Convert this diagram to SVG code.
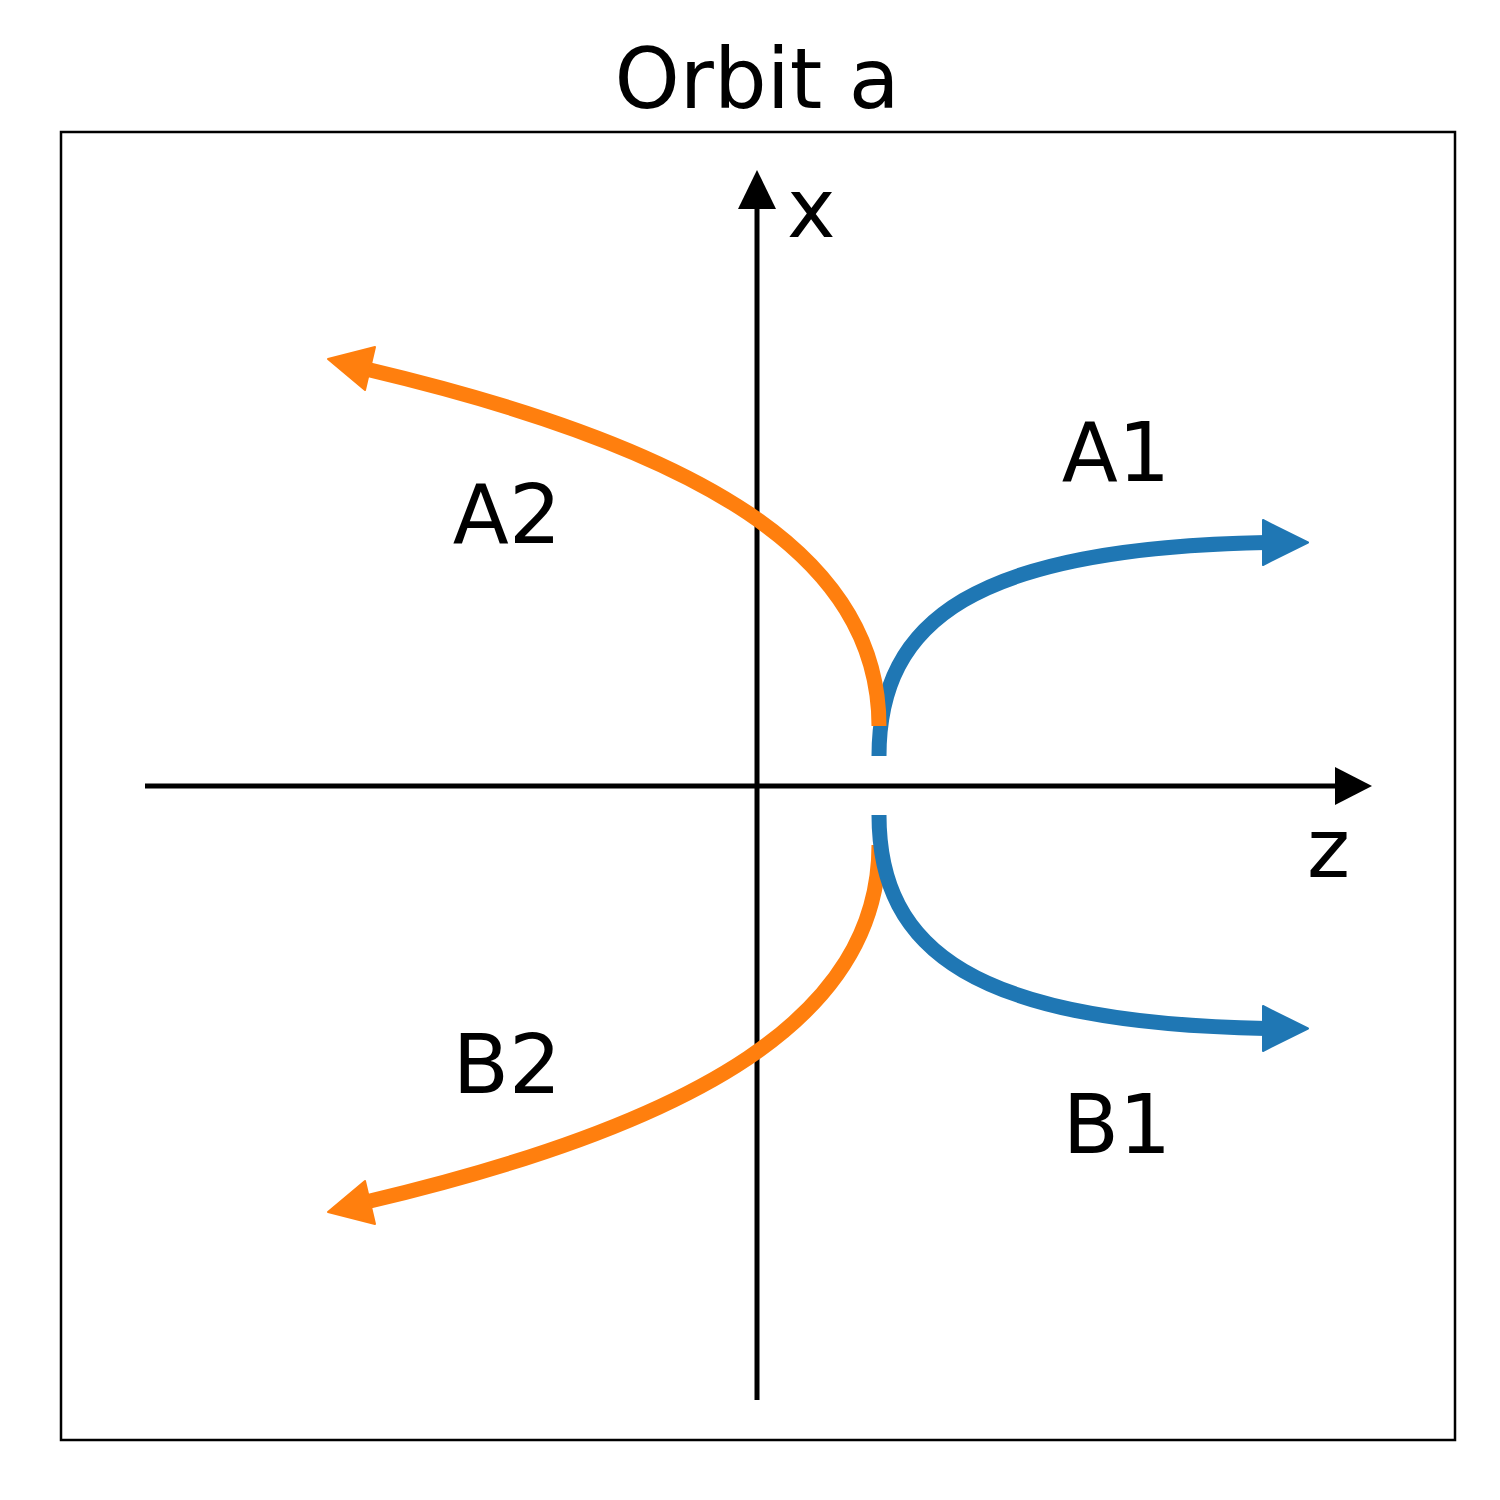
<svg xmlns="http://www.w3.org/2000/svg" width="1500" height="1500" viewBox="0 0 1500 1500">
  <style>
    .lbl { font-family: "DejaVu Sans", "Liberation Sans", sans-serif; font-size: 82px; fill: #000; }
    .axis { stroke: #000; stroke-width: 5; fill: none; }
    .blue { stroke: #1f77b4; stroke-width: 15; fill: none; stroke-linecap: butt; }
    .orange { stroke: #ff7f0e; stroke-width: 15; fill: none; stroke-linecap: butt; }
    .bhead { fill: #1f77b4; stroke: #1f77b4; stroke-width: 2; stroke-linejoin: round; }
    .ohead { fill: #ff7f0e; stroke: #ff7f0e; stroke-width: 2; stroke-linejoin: round; }
  </style>
  <rect x="0" y="0" width="1500" height="1500" fill="#fff"/>
  <rect id="frame" x="61" y="132" width="1394" height="1308" fill="none" stroke="#000" stroke-width="2.5"/>
  <text id="title" class="lbl" x="757" y="108" text-anchor="middle" style="font-size:83px">Orbit a</text>

  <g id="axes">
    <g id="z-axis">
      <line class="axis" x1="145" y1="786" x2="1340" y2="786"/>
      <polygon points="1335,767 1372,786 1335,805" fill="#000"/>
      <text class="lbl" x="1307" y="877">z</text>
    </g>
    <g id="x-axis">
      <line class="axis" x1="757" y1="1400" x2="757" y2="204"/>
      <polygon points="738,209 757,170 776,209" fill="#000"/>
      <text class="lbl" x="787" y="237">x</text>
    </g>
  </g>

  <g id="connectors">
    <g id="A1">
      <path class="blue" d="M879,756 C879,620 975,548 1266,542.5"/>
      <polygon class="bhead" points="1263,520 1308,542.5 1263,565"/>
    </g>
    <g id="A2">
      <path class="orange" d="M879,726 C879,555 700,448 368,369.5"/>
      <polygon class="ohead" points="375,347 328,359 365,390"/>
    </g>
    <g id="B2" transform="matrix(1 0 0 -1 0 1571)">
      <path class="orange" d="M879,726 C879,555 700,448 368,369.5"/>
      <polygon class="ohead" points="375,347 328,359 365,390"/>
    </g>
    <g id="B1" transform="matrix(1 0 0 -1 0 1571)">
      <path class="blue" d="M879,756 C879,620 975,548 1266,542.5"/>
      <polygon class="bhead" points="1263,520 1308,542.5 1263,565"/>
    </g>
  </g>

  <g id="labels">
    <text id="lbl-A1" class="lbl" x="1116" y="481" text-anchor="middle">A1</text>
    <text id="lbl-A2" class="lbl" x="507" y="543" text-anchor="middle">A2</text>
    <text id="lbl-B2" class="lbl" x="507" y="1093" text-anchor="middle">B2</text>
    <text id="lbl-B1" class="lbl" x="1117" y="1153" text-anchor="middle">B1</text>
  </g>
</svg>
